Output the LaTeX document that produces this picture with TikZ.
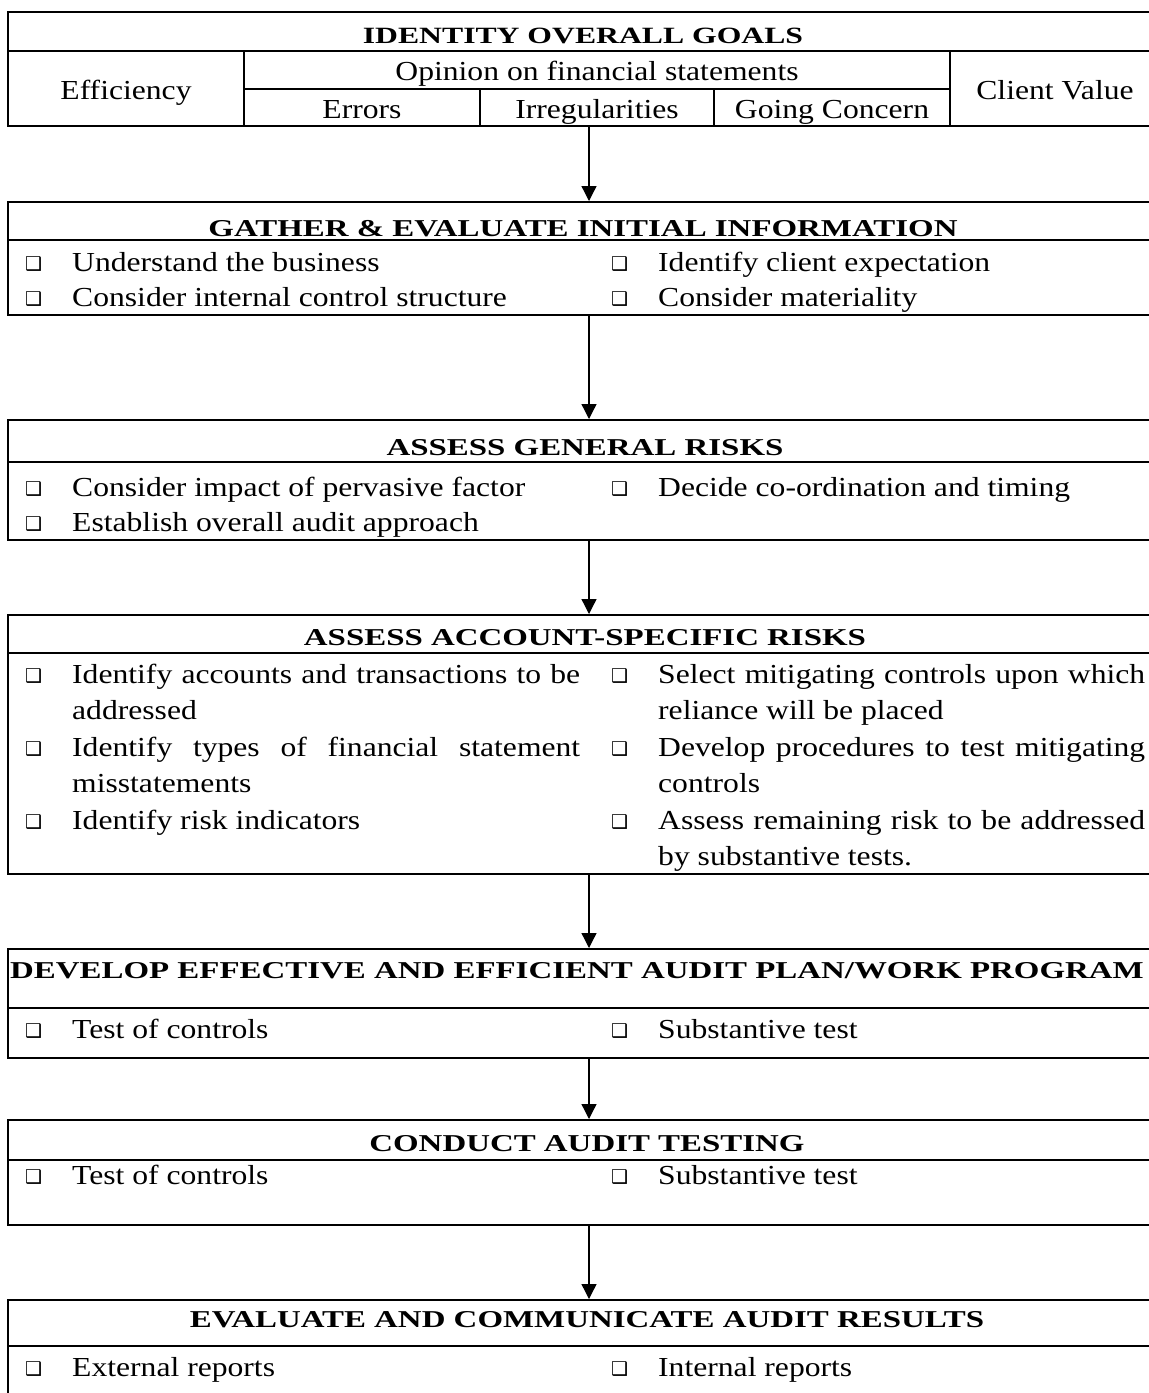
\documentclass[tikz,border=0pt]{standalone}
\usepackage{fontspec}
\setmainfont{Liberation Serif}
\newfontfamily\bodyface{Liberation Serif}[FakeStretch=1.15]
\newfontfamily\headface{Liberation Serif}[FakeStretch=1.36]
\newfontfamily\dingface{DejaVu Sans}
\usetikzlibrary{arrows.meta}
\newcommand\bodyfont{\bodyface\fontsize{27.5}{36.5}\selectfont}
\newcommand\headfont{\headface\bfseries\fontsize{24.2}{28}\selectfont}
\newcommand\bul{\llap{\raisebox{1pt}{\dingface\fontsize{19}{19}\selectfont ❑}\hspace{30pt}}}
\tikzset{
  panel/.style={draw, line width=1.5pt, anchor=north west, minimum width=1154pt,
    inner sep=0pt, outer sep=0pt},
  rule/.style={line width=1.5pt},
  thin rule/.style={line width=1.3pt},
  head/.style={anchor=base, inner sep=0pt, font=\headfont},
  cell/.style={anchor=base, inner sep=0pt, font=\bodyfont},
  item/.style={anchor=base west, inner sep=0pt, font=\bodyfont},
  left item/.style={item, text width=508pt, align=justify},
  right item/.style={item, text width=487pt, align=justify},
  flow/.style={-{Triangle[width=15pt,length=15pt]}, line width=1.3pt, shorten >=1pt}
}

\begin{document}
\begin{tikzpicture}[x=1pt, y=-1pt]
  \useasboundingbox (0,0) rectangle (1149,1393);
  \clip (0,0) rectangle (1149,1393);
  \coordinate (axis) at (589,0);

  % goals table
  \node[panel, minimum height=114pt] (goals) at (8,12) {};
  \draw[rule] (8,51) -- (1162,51);
  \draw[thin rule] (244,51) -- (244,126) (950,51) -- (950,126)
    (244,89) -- (950,89) (480,89) -- (480,126) (714,89) -- (714,126);
  \node[head, font=\headface\bfseries\fontsize{23.3}{28}\selectfont] (goalst) at (583,43) {IDENTITY OVERALL GOALS};
  \node[cell] (eff) at (126,99) {Efficiency};
  \node[cell] (opin) at (597,80) {Opinion on financial statements};
  \node[cell] (err) at (362,118) {Errors};
  \node[cell] (irr) at (597,118) {Irregularities};
  \node[cell] (gc) at (832,118) {Going Concern};
  \node[cell] (cv) at (1055,99) {Client Value};

  % gather
  \node[panel, minimum height=113pt] (gather) at (8,202) {};
  \draw[rule] (8,240) -- (1162,240);
  \node[head] (gathert) at (583,236) {GATHER \& EVALUATE INITIAL INFORMATION};
  \node[item] (g1) at (72,271) {\bul Understand the business};
  \node[item] (g2) at (72,306) {\bul Consider internal control structure};
  \node[item] (g3) at (658,271) {\bul Identify client expectation};
  \node[item] (g4) at (658,306) {\bul Consider materiality};

  % general risks
  \node[panel, minimum height=120pt] (general) at (8,420) {};
  \draw[rule] (8,462) -- (1162,462);
  \node[head] (generalt) at (585,455) {ASSESS GENERAL RISKS};
  \node[item] (r1) at (72,496) {\bul Consider impact of pervasive factor};
  \node[item] (r2) at (72,531) {\bul Establish overall audit approach};
  \node[item] (r3) at (658,496) {\bul Decide co-ordination and timing};

  % account-specific risks
  \node[panel, minimum height=259pt] (specific) at (8,615) {};
  \draw[rule] (8,653) -- (1162,653);
  \node[head] (specifict) at (585,645) {ASSESS ACCOUNT-SPECIFIC RISKS};
  \node[left item] (s1) at (72,683) {\bul Identify accounts and transactions to be\linebreak addressed};
  \node[left item] (s2) at (72,756) {\bul Identify types of financial statement\linebreak misstatements};
  \node[left item] (s3) at (72,829) {\bul Identify risk indicators};
  \node[right item] (s4) at (658,683) {\bul Select mitigating controls upon which\linebreak reliance will be placed};
  \node[right item] (s5) at (658,756) {\bul Develop procedures to test mitigating\linebreak controls};
  \node[right item] (s6) at (658,829) {\bul Assess remaining risk to be addressed\linebreak by substantive tests.};

  % audit plan
  \node[panel, minimum height=109pt] (plan) at (8,949) {};
  \draw[rule] (8,1008) -- (1162,1008);
  \node[head] (plant) at (577,978) {DEVELOP EFFECTIVE AND EFFICIENT AUDIT PLAN/WORK PROGRAM};
  \node[item] (p1) at (72,1038) {\bul Test of controls};
  \node[item] (p2) at (658,1038) {\bul Substantive test};

  % testing
  \node[panel, minimum height=105pt] (testing) at (8,1120) {};
  \draw[rule] (8,1160) -- (1162,1160);
  \node[head] (testingt) at (587,1151) {CONDUCT AUDIT TESTING};
  \node[item] (t1) at (72,1184) {\bul Test of controls};
  \node[item] (t2) at (658,1184) {\bul Substantive test};

  % results
  \node[panel, minimum height=120pt] (results) at (8,1300) {};
  \draw[rule] (8,1346) -- (1162,1346);
  \node[head] (resultst) at (587,1327) {EVALUATE AND COMMUNICATE AUDIT RESULTS};
  \node[item] (e1) at (72,1376) {\bul External reports};
  \node[item] (e2) at (658,1376) {\bul Internal reports};

  \draw[flow] (goals.south -| axis) -- (gather.north -| axis);
  \draw[flow] (gather.south -| axis) -- (general.north -| axis);
  \draw[flow] (general.south -| axis) -- (specific.north -| axis);
  \draw[flow] (specific.south -| axis) -- (plan.north -| axis);
  \draw[flow] (plan.south -| axis) -- (testing.north -| axis);
  \draw[flow] (testing.south -| axis) -- (results.north -| axis);
\end{tikzpicture}
\end{document}
